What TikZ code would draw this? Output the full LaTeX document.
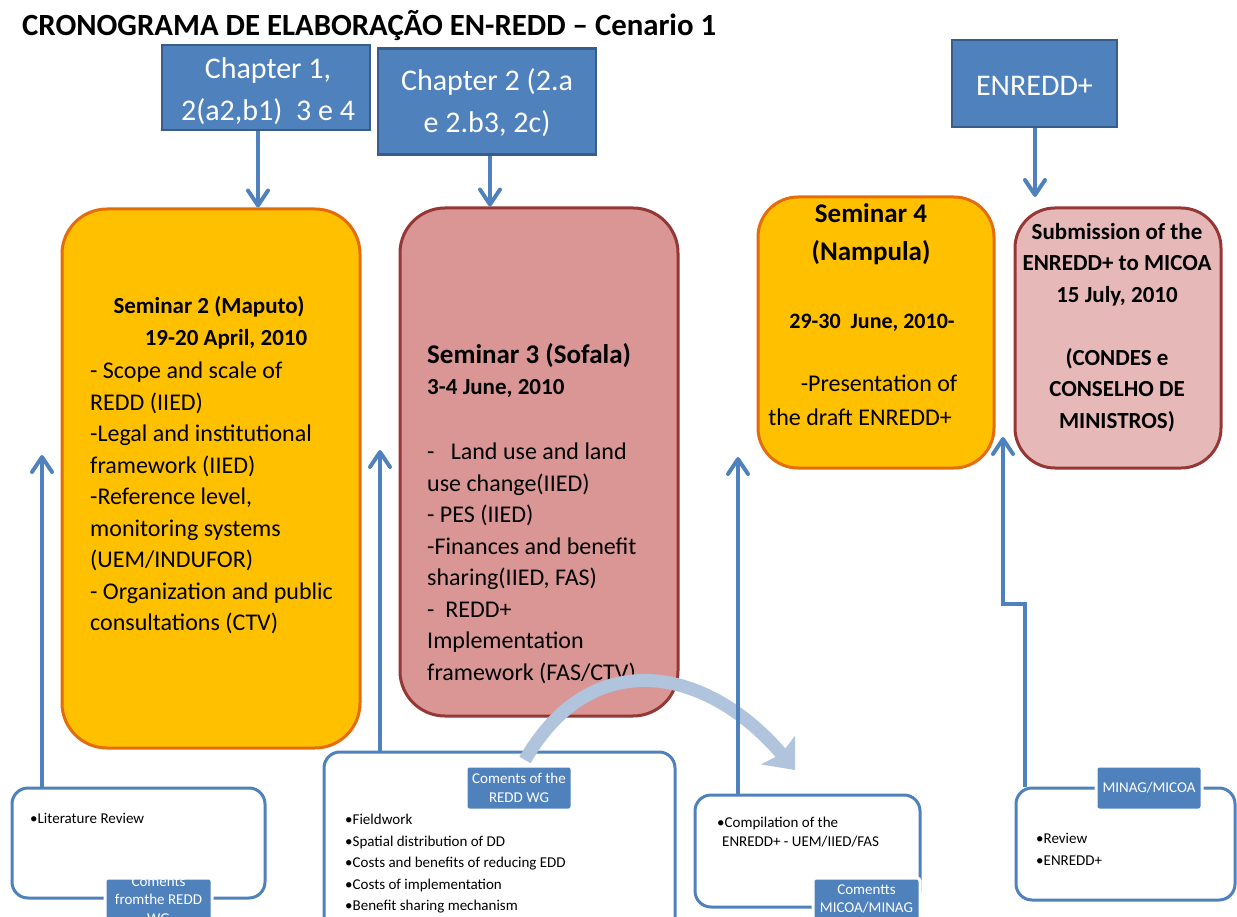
\documentclass[tikz,border=0pt]{standalone}
\usepackage{fontspec}
\setmainfont{Carlito}
\usetikzlibrary{arrows.meta}
\definecolor{bl}{HTML}{4F81BD}
\definecolor{bld}{HTML}{385D8A}
\definecolor{orf}{HTML}{FFC000}
\definecolor{ord}{HTML}{E46C0A}
\definecolor{pkf}{HTML}{D99694}
\definecolor{pkl}{HTML}{E6B9B8}
\definecolor{pkd}{HTML}{953735}
\definecolor{lb}{HTML}{B0C4DE}
\newcommand{\myfs}[2]{\fontsize{#1}{#2}\selectfont}
\begin{document}
\begin{tikzpicture}[x=1pt,y=-1pt,
  chapbox/.style={draw=bld, fill=bl, line width=2.5pt, inner sep=0pt},
  chaptext/.style={text=white, font=\myfs{30}{42}, align=center, inner sep=0pt},
  semO/.style={draw=ord, fill=orf, line width=3pt, inner sep=0pt},
  semP/.style={draw=pkd, fill=pkf, line width=3pt, inner sep=0pt},
  semPL/.style={draw=pkd, fill=pkl, line width=3pt, inner sep=0pt},
  combox/.style={draw=bl, fill=white, line width=3pt, rounded corners=16pt, inner sep=0pt},
  labbox/.style={draw=white, fill=bl, line width=3pt, rounded corners=3pt, inner sep=0pt},
  labtext/.style={text=white, font=\myfs{15}{18.5}, align=center, inner sep=0pt},
  bodytext/.style={font=\myfs{24}{31.5}, align=left, inner sep=0pt},
  smalltext/.style={font=\myfs{15}{21.5}, align=left, inner sep=0pt},
  uparr/.style={draw=bl, line width=4pt, -{Straight Barb[length=15pt,width=20pt,round]}},
  curvarr/.style={draw=lb, line width=13pt, -{Stealth[length=26pt,width=44pt,inset=5pt]}}
]
\useasboundingbox (0,0) rectangle (1237,917);
\fill[white] (0,0) rectangle (1237,917);

% title
\node[anchor=west, inner sep=0pt, font=\bfseries\myfs{30.8}{36}] (title) at (22,26) {CRONOGRAMA DE ELABORAÇÃO EN-REDD – Cenario 1};

% seminar boxes
\node[semO, rounded corners=45pt, minimum width=298pt, minimum height=539pt] (s2) at (211,478.5) {};
\node[semP, rounded corners=45pt, minimum width=278pt, minimum height=508pt] (s3) at (539,462) {};
\node[semO, rounded corners=40pt, minimum width=236pt, minimum height=271pt] (s4) at (876,332.5) {};
\node[semPL, rounded corners=40pt, minimum width=206pt, minimum height=260pt] (sub) at (1118,338) {};

% chapter boxes
\node[chapbox, minimum width=208pt, minimum height=85pt] (c1) at (266,87.5) {};
\node[chaptext] (c1t) at (268,91) {Chapter 1,\\2(a2,b1)\ \ 3 e 4};
\node[chapbox, minimum width=218pt, minimum height=106pt] (c2) at (487,101.5) {};
\node[chaptext] (c2t) at (487,102.5) {Chapter 2 (2.a\\e 2.b3, 2c)};
\node[chapbox, minimum width=165pt, minimum height=87pt] (en) at (1034.5,83.5) {};
\node[chaptext] (ent) at (1034.5,85.5) {ENREDD+};
\coordinate (entip) at (1035,197);

\draw[uparr] ([xshift=-8pt]c1.south) -- ([xshift=-8pt]c1.south |- s2.north);
\draw[uparr] ([xshift=3pt]c2.south) -- ([xshift=3pt]c2.south |- s3.north);
\draw[uparr] ([xshift=0.5pt]en.south) -- (entip);

% seminar 2 text
\node[font=\bfseries\myfs{23}{31.5}, inner sep=0pt] (s2h1) at (209,307) {Seminar 2 (Maputo)};
\node[font=\bfseries\myfs{23}{31.5}, inner sep=0pt] (s2h2) at (226,339) {19-20 April, 2010};
\node[bodytext, anchor=north west] (s2b) at (90,362) {- Scope and scale of\\REDD (IIED)\\-Legal and institutional\\framework (IIED)\\-Reference level,\\monitoring systems\\(UEM/INDUFOR)\\- Organization and public\\consultations (CTV)};

% seminar 3 text
\node[font=\bfseries\myfs{27}{31.5}, inner sep=0pt, anchor=west] (s3h1) at (427,356) {Seminar 3 (Sofala)};
\node[font=\bfseries\myfs{23}{31.5}, inner sep=0pt, anchor=west] (s3h2) at (427,389) {3-4 June, 2010};
\node[bodytext, anchor=north west] (s3b) at (427,443) {-\ \ \ Land use and land\\use change(IIED)\\- PES (IIED)\\-Finances and benefit\\sharing(IIED, FAS)\\-\ \ REDD+\\Implementation\\framework (FAS/CTV)};

% seminar 4 text
\node[font=\bfseries\myfs{27}{38}, inner sep=0pt, align=center, anchor=north] (s4h) at (871,203) {Seminar 4\\(Nampula)};
\node[font=\bfseries\myfs{22}{31.5}, inner sep=0pt] (s4d) at (872,323) {29-30\ \ June, 2010-};
\node[font=\myfs{24}{31.5}, inner sep=0pt] (s4t1) at (879,383) {-Presentation of};
\node[font=\myfs{24}{31.5}, inner sep=0pt] (s4t2) at (860,417) {the draft ENREDD+};

% submission text
\node[font=\bfseries\myfs{23}{31.5}, inner sep=0pt, align=center, anchor=north] (subt) at (1117,223) {Submission of the\\ENREDD+ to MICOA\\15 July, 2010\\\mbox{}\\(CONDES e\\CONSELHO DE\\MINISTROS)};

% bottom boxes
\node[combox, minimum width=253pt, minimum height=110pt] (lit) at (138.5,843) {};
\node[combox, minimum width=351pt, minimum height=188pt] (fw) at (499.5,846) {};
\node[combox, minimum width=225pt, minimum height=112pt] (comp) at (807.5,851) {};
\node[combox, minimum width=219pt, minimum height=112pt] (mn) at (1125.5,844) {};

\node[smalltext, anchor=west] (litt) at (30,818) {•Literature Review};
\node[smalltext, anchor=north west] (fwt) at (345,814) {•Fieldwork\\•Spatial distribution of DD\\•Costs and benefits of reducing EDD\\•Costs of implementation\\•Benefit sharing mechanism};
\node[smalltext, anchor=north west, font=\myfs{15}{19}] (compt) at (717,817) {•Compilation of the\\\hspace*{5pt}ENREDD+ - UEM/IIED/FAS};
\node[smalltext, anchor=north west] (mnt) at (1036,833) {•Review\\•ENREDD+};

% labels
\node[labbox, minimum width=107pt, minimum height=57pt] (litlab) at (158.5,906.5) {};
\node[labtext] (litlabt) at (158.5,900) {Coments\\fromthe REDD\\WG};
\node[labbox, minimum width=106pt, minimum height=44pt] (fwlab) at (519,788) {};
\node[labtext] (fwlabt) at (fwlab) {Coments of the\\REDD WG};
\node[labbox, minimum width=107pt, minimum height=57pt] (complab) at (866.5,906.5) {};
\node[labtext] (complabt) at (866.5,899) {Comentts\\MICOA/MINAG};
\node[labbox, minimum width=106pt, minimum height=44pt] (mnlab) at (1149,788) {};
\node[labtext] (mnlabt) at (mnlab) {MINAG/MICOA};

% curved arrow
\coordinate (cvs) at (525,760);
\coordinate (cve) at (795,770);
\draw[curvarr] (cvs) .. controls (592,643) and (708,667) .. (cve);

% up arrows
\coordinate (littip) at (42,455);
\coordinate (fwtip) at (380,450);
\coordinate (comptip) at (738,457);
\coordinate (mntip) at (1003,437);
\draw[uparr] ([xshift=-96.5pt]lit.north) -- (littip);
\draw[uparr] ([xshift=-119.5pt]fw.north) -- (fwtip);
\draw[uparr] ([xshift=-69.5pt]comp.north) -- (comptip);
\draw[uparr] ([xshift=-100.5pt]mn.north) -- ++(0,-183) -- ++(-22,0) -- (mntip);
\end{tikzpicture}
\end{document}
